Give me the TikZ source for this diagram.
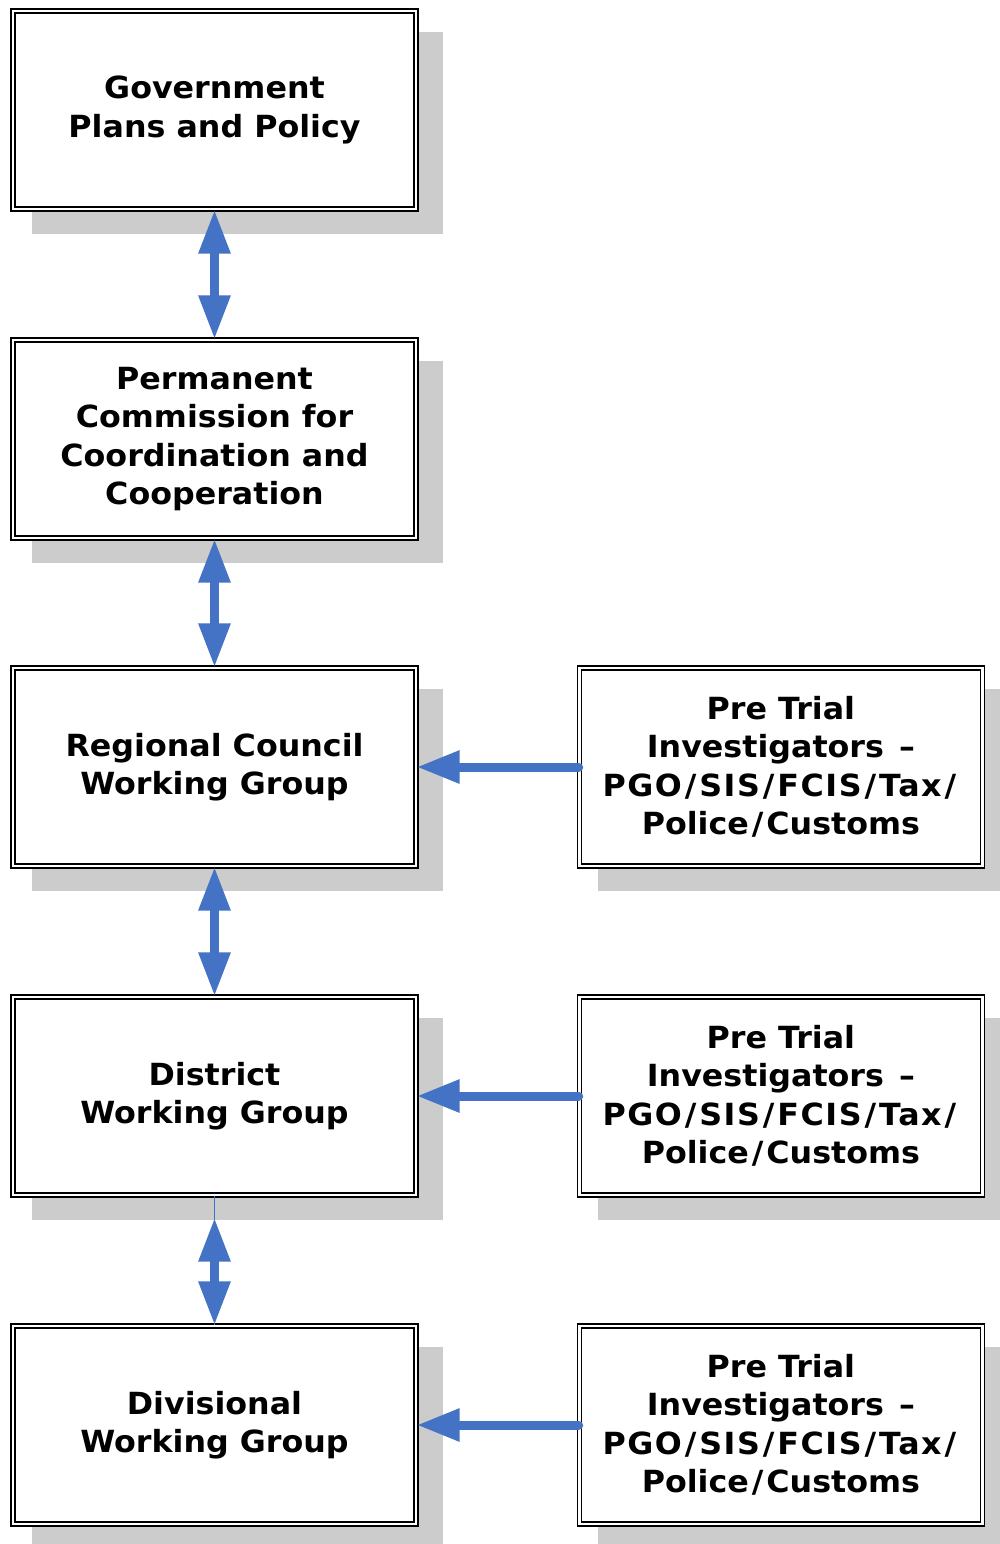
\documentclass[tikz,border=0pt]{standalone}
\usepackage{fontspec}
\setmainfont[FakeStretch=1.04]{DejaVu Sans}
\usepackage{tikz}
\usetikzlibrary{arrows.meta, positioning, shadows}
\definecolor{arrowBlue}{HTML}{4472C4}
\definecolor{shadeGray}{HTML}{CCCCCC}
% wider separator between agency names
\newcommand{\agsep}{\kern3pt/\kern3pt}
\newcommand{\agline}[1]{{\addfontfeatures{LetterSpace=5}#1}}
\tikzset{
  orgBox/.style={rectangle, draw=black, line width=1.4pt, double=white,
                 double distance=2.6pt, fill=white,
                 minimum width=403pt, minimum height=198pt, inner sep=0pt,
                 align=center, font=\fontsize{30.5}{38.5}\selectfont\bfseries,
                 drop shadow={fill=shadeGray, opacity=1, shadow scale=1.02,
                              shadow xshift=22.5pt, shadow yshift=-23pt}},
  biArrow/.style={draw=arrowBlue, line width=9pt,
                  {Triangle[length=44pt,width=30pt]}-{Triangle[length=44pt,width=30pt]}},
  inArrow/.style={draw=arrowBlue, line width=9pt, line cap=round,
                  -{Triangle[length=43pt,width=31pt]}},
  thinLink/.style={draw=arrowBlue, line width=1.2pt},
}

\begin{document}
\begin{tikzpicture}[x=1pt, y=-1pt]
    \useasboundingbox (0,0) rectangle (999,1544);
    % main column
    \node[orgBox] (gov)   at (214.5,110)  {Government\\Plans and Policy};
    \node[orgBox] (pcc)   at (214.5,439)  {Permanent\\Commission for\\Coordination and\\Cooperation};
    \node[orgBox] (rcwg)  at (214.5,767)  {Regional Council\\Working Group};
    \node[orgBox] (dwg)   at (214.5,1096) {District\\Working Group};
    \node[orgBox] (divwg) at (214.5,1425) {Divisional\\Working Group};
    % investigators feeding each level
    \foreach \n/\tgt in {pti1/rcwg, pti2/dwg, pti3/divwg}{
      \node[orgBox, right=162pt of \tgt] (\n)
        {Pre Trial\\Investigators\kern4pt{} --\\%
         \agline{PGO\agsep SIS\agsep FCIS\agsep Tax\agsep}\\%
         Police\agsep Customs};
      \draw[inArrow] (\n.west) -- (\tgt.east);
    }
    \draw[biArrow] (gov.south) -- (pcc.north);
    \draw[biArrow] (pcc.south) -- (rcwg.north);
    \draw[biArrow] (rcwg.south) -- (dwg.north);
    \draw[thinLink] (dwg.south) -- (divwg.north);
    \draw[biArrow, shorten <=22pt] (dwg.south) -- (divwg.north);
\end{tikzpicture}
\end{document}
